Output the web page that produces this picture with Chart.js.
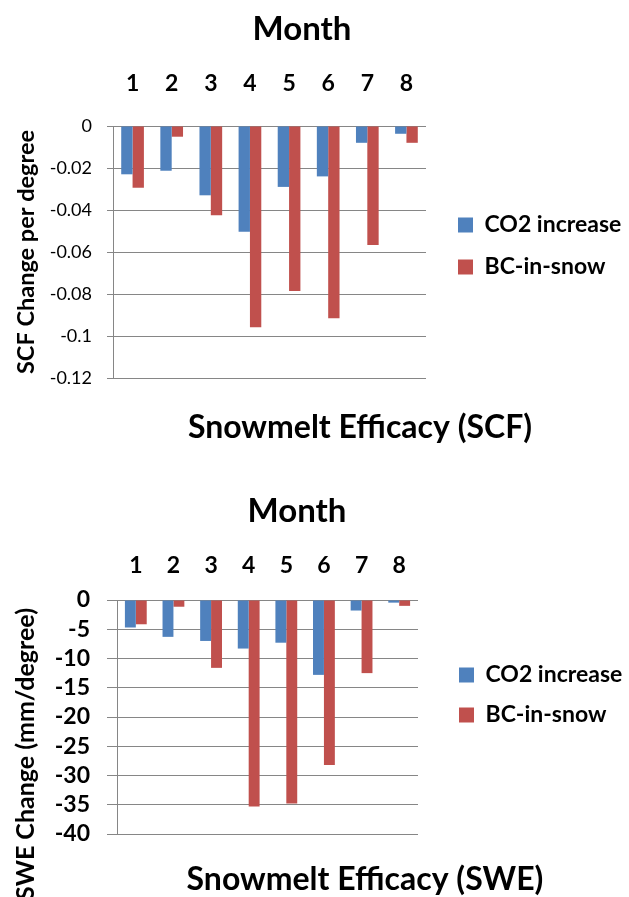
<!DOCTYPE html>
<html><head><meta charset="utf-8">
<script src="https://cdn.jsdelivr.net/npm/chart.js@4.4.0/dist/chart.umd.min.js"></script>
<style>
html,body{margin:0;padding:0;background:#fff;overflow:hidden;width:629px;height:897px;}
#c1{position:absolute;left:0;top:0;}
#c2{position:absolute;left:0;top:460px;}
</style></head><body>
<canvas id="c1" width="629" height="460"></canvas>
<canvas id="c2" width="629" height="437"></canvas>
<script>
// ---- data ----
const months = ['1','2','3','4','5','6','7','8'];
const seriesNames = ['CO2 increase','BC-in-snow'];
const scfCO2 = [-0.023,-0.0213,-0.033,-0.0503,-0.029,-0.024,-0.008,-0.0037];
const scfBC  = [-0.0294,-0.0051,-0.0425,-0.0958,-0.0786,-0.0915,-0.0567,-0.008];
const sweCO2 = [-4.7,-6.3,-7.0,-8.3,-7.3,-12.8,-1.8,-0.45];
const sweBC  = [-4.15,-1.15,-11.6,-35.3,-34.8,-28.2,-12.5,-1.0];
const scfTicks = [0,-0.02,-0.04,-0.06,-0.08,-0.1,-0.12];
const sweTicks = [0,-5,-10,-15,-20,-25,-30,-35,-40];
const xTitle = 'Month';
const scfTitle = 'Snowmelt Efficacy (SCF)';
const sweTitle = 'Snowmelt Efficacy (SWE)';
const scfYTitle = 'SCF Change per degree';
const sweYTitle = 'SWE Change (mm/degree)';

const BLUE = '#4F81BD', RED = '#C0504D', GRID = '#868686';
Chart.defaults.font.family = 'Lato';
Chart.defaults.color = '#000';

const freeText = {
  id: 'freeText',
  afterDraw(chart, args, opts) {
    const ctx = chart.ctx;
    (opts.items || []).forEach(it => {
      ctx.save();
      ctx.font = 'bold ' + it.size + 'px Lato';
      ctx.fillStyle = '#000';
      ctx.textBaseline = 'middle';
      ctx.textAlign = it.align || 'center';
      ctx.translate(it.x, it.y);
      if (it.rotate) ctx.rotate(-Math.PI / 2);
      ctx.fillText(it.text, 0, 0);
      ctx.restore();
    });
  }
};

function makeDatasets(a, b) {
  return [
    {label: seriesNames[0], data: a, backgroundColor: BLUE, borderWidth: 0, categoryPercentage: 0.58, barPercentage: 1.0},
    {label: seriesNames[1], data: b, backgroundColor: RED, borderWidth: 0, categoryPercentage: 0.58, barPercentage: 1.0}
  ];
}
function tickLabel(ticks) {
  return v => {
    const m = ticks.find(t => Math.abs(t - v) < 1e-9);
    return m === undefined ? '' : String(m);
  };
}
function spacerX(h) {
  return {position: 'bottom', display: true, grid: {display: false, drawTicks: false}, border: {display: false},
          ticks: {display: false}, afterFit: s => { s.height = h; }};
}
function spacerY(w) {
  return {position: 'right', display: true, grid: {display: false, drawTicks: false}, border: {display: false},
          ticks: {display: false}, afterFit: s => { s.width = w; }};
}

// ---- top chart (SCF) ----
new Chart(document.getElementById('c1'), {
  type: 'bar',
  data: {labels: months, datasets: makeDatasets(scfCO2, scfBC)},
  plugins: [freeText],
  options: {
    responsive: false, animation: false,
    layout: {padding: {top: 60, bottom: 28, left: 0, right: 0}},
    scales: {
      x: {position: 'top', grid: {display: false, drawTicks: false, tickLength: 0}, border: {display: false},
          ticks: {font: {size: 23, weight: 'bold'}, color: '#000', padding: 29, maxRotation: 0, autoSkip: false},
          afterFit: s => { s.height = 66; }},
      xb: spacerX(54),
      y: {min: Math.min(...scfTicks), max: Math.max(...scfTicks),
          ticks: {stepSize: scfTicks[0] - scfTicks[1], font: {size: 18}, color: '#000', padding: 15, autoSkip: false, callback: tickLabel(scfTicks)},
          grid: {color: GRID, tickLength: 6, drawTicks: true},
          border: {display: true, color: GRID},
          title: {display: true, text: scfYTitle, font: {size: 23.5, weight: 'bold'}, color: '#000', padding: {top: 12, bottom: 0}},
          afterFit: s => { s.width = 113; }},
      gap: spacerY(13)
    },
    plugins: {
      legend: {position: 'right', align: 'center', maxWidth: 190,
               labels: {boxWidth: 15, boxHeight: 15, padding: 19, font: {size: 23, weight: 'bold'}, color: '#000'}},
      tooltip: {enabled: false},
      freeText: {items: [
        {text: xTitle, x: 302, y: 29, size: 33},
        {text: scfTitle, x: 360, y: 428, size: 32}
      ]}
    }
  }
});

// ---- bottom chart (SWE) ----
new Chart(document.getElementById('c2'), {
  type: 'bar',
  data: {labels: months, datasets: makeDatasets(sweCO2, sweBC)},
  plugins: [freeText],
  options: {
    responsive: false, animation: false,
    layout: {padding: {top: 80, bottom: 47, left: 0, right: 0}},
    scales: {
      x: {position: 'top', grid: {display: false, drawTicks: false, tickLength: 0}, border: {display: false},
          ticks: {font: {size: 23, weight: 'bold'}, color: '#000', padding: 21, maxRotation: 0, autoSkip: false},
          afterFit: s => { s.height = 60; }},
      xb: spacerX(16),
      y: {min: Math.min(...sweTicks), max: Math.max(...sweTicks),
          ticks: {stepSize: sweTicks[0] - sweTicks[1], font: {size: 23, weight: 'bold'}, color: '#000', padding: 17, autoSkip: false, callback: tickLabel(sweTicks)},
          grid: {color: GRID, tickLength: 10, drawTicks: true},
          border: {display: true, color: GRID},
          afterFit: s => { s.width = 117; }},
      gap: spacerY(24)
    },
    plugins: {
      legend: {position: 'right', align: 'center', maxWidth: 187,
               labels: {boxWidth: 15, boxHeight: 15, padding: 17, font: {size: 23, weight: 'bold'}, color: '#000'}},
      tooltip: {enabled: false},
      freeText: {items: [
        {text: xTitle, x: 297, y: 51, size: 33},
        {text: sweTitle, x: 365, y: 420, size: 32},
        {text: sweYTitle, x: 26, y: 148, size: 25, rotate: true, align: 'right'}
      ]}
    }
  }
});
</script>
</body></html>
